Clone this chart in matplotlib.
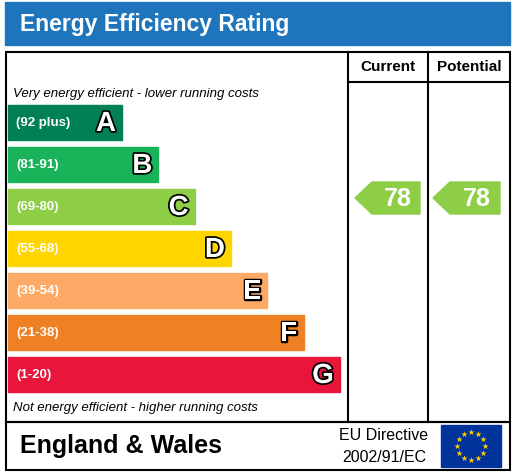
import matplotlib
matplotlib.use("Agg")
import matplotlib.pyplot as plt
import matplotlib.patheffects as pe
from matplotlib.patches import Rectangle, Polygon
import numpy as np

letters = ["A", "B", "C", "D", "E", "F", "G"]
ranges = ["(92 plus)", "(81-91)", "(69-80)", "(55-68)", "(39-54)", "(21-38)", "(1-20)"]
colors = ["#008054", "#19b459", "#8dce46", "#ffd500", "#fcaa65", "#ef8023", "#e9153b"]
current = 78
potential = 78

def band_of(v):
    lows = [92, 81, 69, 55, 39, 21, 1]
    for i, lo in enumerate(lows):
        if v >= lo:
            return i
    return 6

W, H = 514, 475
fig = plt.figure(figsize=(W / 100, H / 100), dpi=100)
ax = fig.add_axes([0, 0, 1, 1])
ax.set_xlim(0, W)
ax.set_ylim(H, 0)
ax.axis("off")

# title bar
ax.add_patch(Rectangle((5, 2), 505, 43, color="#1e75bb"))
ax.text(20, 25, "Energy Efficiency Rating", color="white", fontsize=16.5,
        fontweight="bold", va="center", family="Liberation Sans")

# frames
lw = 1.5
ax.add_patch(Rectangle((6, 52), 504, 370, fill=False, lw=lw, ec="black"))
ax.add_patch(Rectangle((6, 422), 504, 48, fill=False, lw=lw, ec="black"))
for x in (348, 428):
    ax.plot([x, x], [52, 422], color="black", lw=lw)
ax.plot([348, 510], [82, 82], color="black", lw=lw)
ax.text(388, 67, "Current", fontsize=11, fontweight="bold", ha="center", va="center", family="Liberation Sans")
ax.text(469, 67, "Potential", fontsize=11, fontweight="bold", ha="center", va="center", family="Liberation Sans")

ax.text(13, 94, "Very energy efficient - lower running costs", fontsize=9.5, style="italic",
        va="center", family="Liberation Sans")
ax.text(13, 408, "Not energy efficient - higher running costs", fontsize=9.5, style="italic",
        va="center", family="Liberation Sans")

stroke = [pe.withStroke(linewidth=2.5, foreground="black")]
for i, (L, r, c) in enumerate(zip(letters, ranges, colors)):
    y0 = 105 + i * 42
    right = 122 + i * 36.3
    ax.add_patch(Rectangle((8, y0), right - 8, 35, color=c))
    ax.text(16, y0 + 18, r, fontsize=9.5, fontweight="bold", color="white", va="center",
            family="Liberation Sans")
    ax.text(right - 6, y0 + 19, L, fontsize=20, fontweight="bold", color="white",
            ha="right", va="center", family="Liberation Sans", path_effects=stroke)

def arrow(x0, x1, v):
    i = band_of(v)
    yc, h = 198, 16
    pts = [(x0, yc), (x0 + 17, yc - h), (x1, yc - h), (x1, yc + h), (x0 + 17, yc + h)]
    ax.add_patch(Polygon(pts, color=colors[i]))
    ax.text((x0 + 17 + x1) / 2 + 2, yc + 1, str(v), fontsize=18, fontweight="bold",
            color="white", ha="center", va="center", family="Liberation Sans")

arrow(355, 420, current)
arrow(433, 500, potential)

ax.text(20, 446, "England & Wales", fontsize=18, fontweight="bold", va="center", family="Liberation Sans")
ax.text(384, 436, "EU Directive", fontsize=11.5, ha="center", va="center", family="Liberation Sans")
ax.text(384, 457, "2002/91/EC", fontsize=11.5, ha="center", va="center", family="Liberation Sans")

# EU flag
ax.add_patch(Rectangle((441, 425), 60, 42, color="#003399"))
ang = np.linspace(0, 2 * np.pi, 13)[:-1]
ax.scatter(471 + 14 * np.cos(ang), 446 + 14 * np.sin(ang), marker="*", s=22, color="#ffcc00", lw=0)

fig.savefig("out.png", dpi=100)
